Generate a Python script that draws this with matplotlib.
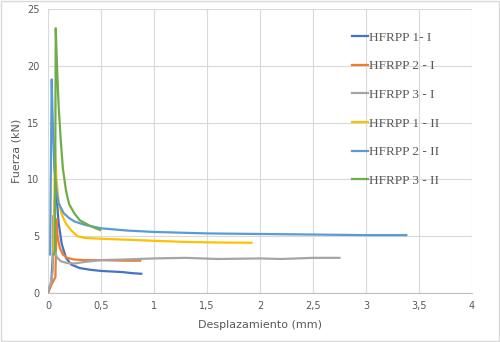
import matplotlib
matplotlib.use("Agg")
import matplotlib.pyplot as plt
from matplotlib.patches import Rectangle
from matplotlib.ticker import FuncFormatter

# curves (desplazamiento mm, fuerza kN)
x_1_I = [0, 0.03, 0.05, 0.065, 0.075, 0.085, 0.1, 0.13, 0.17, 0.22, 0.3, 0.4, 0.5, 0.6, 0.7, 0.8, 0.88]
y_1_I = [0, 0.8, 4.0, 8.5, 9.5, 8.0, 6.2, 4.3, 3.1, 2.5, 2.2, 2.05, 1.95, 1.9, 1.85, 1.75, 1.7]

x_2_I = [0, 0.03, 0.07, 0.075, 0.08, 0.09, 0.11, 0.14, 0.18, 0.25, 0.35, 0.5, 0.7, 0.87]
y_2_I = [0.1, 0.7, 1.4, 4.0, 6.5, 5.0, 4.0, 3.4, 3.1, 2.95, 2.9, 2.9, 2.85, 2.85]

x_3_I = [0, 0.03, 0.045, 0.05, 0.06, 0.08, 0.12, 0.18, 0.25, 0.35, 0.5, 0.7, 1.0, 1.3, 1.6, 2.0, 2.2, 2.5, 2.75]
y_3_I = [0.2, 1.0, 2.0, 6.8, 4.0, 3.2, 2.8, 2.65, 2.6, 2.75, 2.9, 2.95, 3.05, 3.1, 3.0, 3.05, 3.0, 3.1, 3.1]

x_1_II = [0.055, 0.06, 0.065, 0.08, 0.1, 0.13, 0.17, 0.22, 0.28, 0.35, 0.5, 0.8, 1.0, 1.3, 1.6, 1.92]
y_1_II = [3.5, 8.0, 13.0, 10.0, 8.0, 6.9, 6.1, 5.5, 5.0, 4.85, 4.78, 4.68, 4.6, 4.5, 4.45, 4.43]

x_2_II = [0.02, 0.03, 0.035, 0.045, 0.06, 0.08, 0.1, 0.15, 0.2, 0.25, 0.35, 0.5, 0.75, 1.0, 1.5, 2.0, 2.5, 3.0, 3.38]
y_2_II = [3.4, 14.0, 18.8, 15.0, 11.0, 9.0, 7.9, 7.0, 6.6, 6.3, 6.0, 5.7, 5.5, 5.38, 5.25, 5.2, 5.15, 5.1, 5.1]

x_3_II = [0.055, 0.065, 0.07, 0.073, 0.085, 0.1, 0.12, 0.14, 0.17, 0.2, 0.25, 0.3, 0.4, 0.49]
y_3_II = [3.4, 3.8, 15.0, 23.3, 20.0, 16.5, 13.5, 11.0, 9.0, 7.8, 7.0, 6.4, 5.9, 5.55]

series = [
    ("HFRPP 1- I", x_1_I, y_1_I, "#4472C4"),
    ("HFRPP 2 - I", x_2_I, y_2_I, "#ED7D31"),
    ("HFRPP 3 - I", x_3_I, y_3_I, "#A5A5A5"),
    ("HFRPP 1 - II", x_1_II, y_1_II, "#FFC000"),
    ("HFRPP 2 - II", x_2_II, y_2_II, "#5B9BD5"),
    ("HFRPP 3 - II", x_3_II, y_3_II, "#70AD47"),
]

txt = "#595959"
grid = "#d9d9d9"

fig = plt.figure(figsize=(5, 3.42), dpi=100)
ax = fig.add_axes([0.096, 0.143, 0.848, 0.831])

for name, xs, ys, c in series:
    ax.plot(xs, ys, color=c, lw=1.6, label=name, solid_joinstyle="round")

ax.set_xlim(0, 4)
ax.set_ylim(0, 25)
ax.set_xticks([0, 0.5, 1, 1.5, 2, 2.5, 3, 3.5, 4])
ax.set_yticks([0, 5, 10, 15, 20, 25])
ax.xaxis.set_major_formatter(FuncFormatter(lambda v, p: f"{v:g}".replace(".", ",")))
ax.grid(True, color=grid, lw=0.8)
ax.set_axisbelow(True)
for s in ["top", "right", "left"]:
    ax.spines[s].set_visible(False)
ax.spines["bottom"].set_color("#bfbfbf")
ax.tick_params(length=0, labelsize=7, colors=txt, pad=6)

ax.set_xlabel("Desplazamiento (mm)", fontsize=8, color=txt, labelpad=6)
ax.set_ylabel("Fuerza (kN)", fontsize=8, color=txt, labelpad=4)

ax.legend(loc="upper left", bbox_to_anchor=(0.69, 0.962), frameon=False,
          prop={"family": "Liberation Serif", "size": 9.5}, labelcolor=txt,
          handlelength=1.2, handletextpad=0.05, labelspacing=1.24)

fig.patches.append(Rectangle((0.002, 0.003), 0.996, 0.994, transform=fig.transFigure,
                             fill=False, edgecolor=grid, lw=1))

fig.savefig("out.png", dpi=100)
